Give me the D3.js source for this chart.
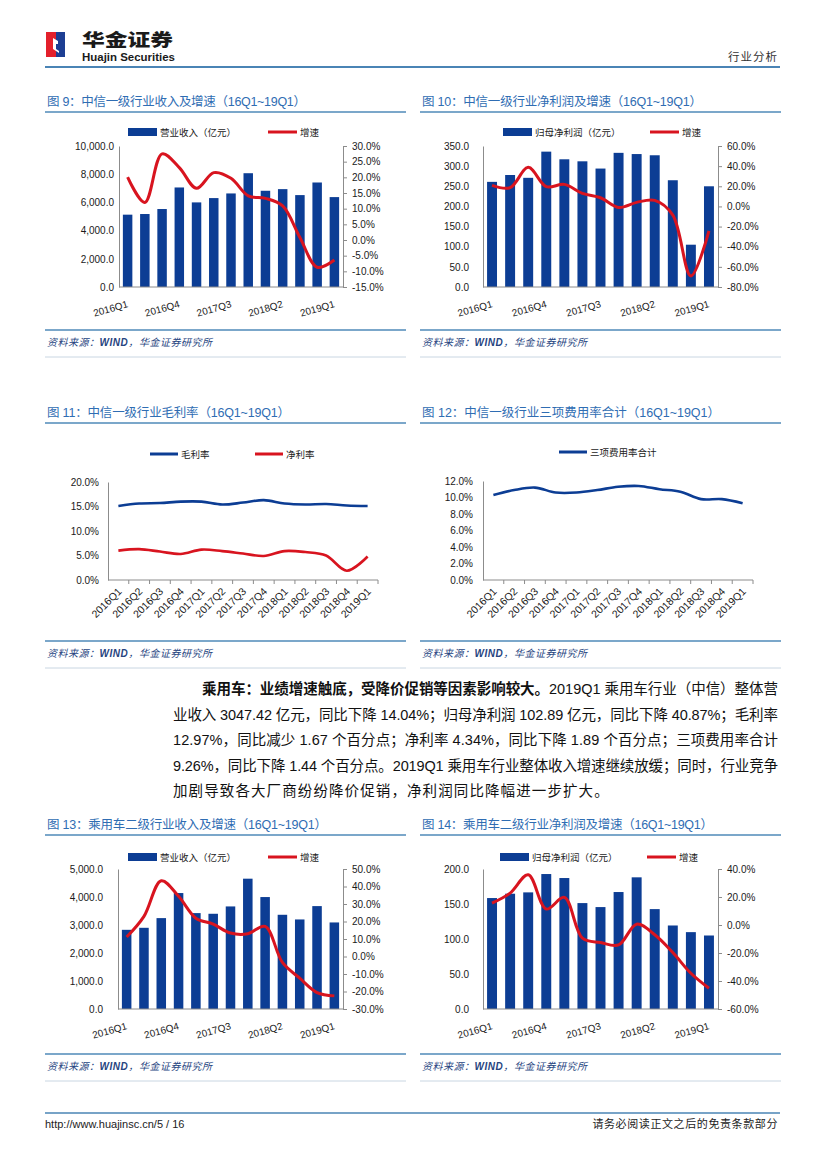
<!DOCTYPE html>
<html><head><meta charset="utf-8">
<script src="https://cdn.jsdelivr.net/npm/d3@7"></script>
<style>
body{margin:0;background:#fff}
text{font-family:"Liberation Sans",Arial,"Noto Sans CJK SC",sans-serif}
</style>
</head><body><svg id="c" width="827" height="1169"></svg>
<script>
// ---------- DATA ----------
const quarters = ["2016Q1","2016Q2","2016Q3","2016Q4","2017Q1","2017Q2","2017Q3","2017Q4","2018Q1","2018Q2","2018Q3","2018Q4","2019Q1"];
const sparseLabels = ["2016Q1","2016Q4","2017Q3","2018Q2","2019Q1"];
// Fig 9
const l1Revenue = [5130,5176,5530,7059,6000,6306,6635,8070,6824,6941,6518,7412,6376];
const l1RevenueGrowth = [20.1,12.0,27.5,23.1,16.5,21.5,19.7,14.1,13.3,10.9,0.8,-8.7,-6.4];
const fig9LeftTicks = [0,2000,4000,6000,8000,10000];
const fig9RightTicks = [-15,-10,-5,0,5,10,15,20,25,30];
// Fig 10
const l1Profit = [261,278,271,336,317,312,294,333,330,327,265,105,250];
const l1ProfitGrowth = [20.9,18.6,38.8,19.6,21.9,12.9,8.6,-1.0,4.0,6.0,-8.6,-69,-24.2];
const fig10LeftTicks = [0,50,100,150,200,250,300,350];
const fig10RightTicks = [-80,-60,-40,-20,0,20,40,60];
// Fig 11
const l1GrossMargin = [15.1,15.6,15.7,16.0,16.0,15.4,15.8,16.3,15.6,15.4,15.5,15.2,15.1];
const l1NetMargin = [6.0,6.3,5.8,5.3,6.2,5.9,5.4,4.9,5.9,5.7,5.0,1.9,4.8];
const fig11Ticks = [0,5,10,15,20];
// Fig 12
const l1ExpenseRatio = [10.3,10.9,11.2,10.6,10.6,10.9,11.3,11.4,11.0,10.7,9.8,9.8,9.3];
const fig12Ticks = [0,2,4,6,8,10,12];
// Fig 13
const pvRevenue = [2828,2900,3246,4141,3425,3401,3663,4654,3998,3365,3198,3675,3091];
const pvRevenueGrowth = [11.1,22.9,43.3,34.4,21.9,18.5,13.4,13.0,17.2,-3.4,-12.4,-20.6,-22.5];
const fig13LeftTicks = [0,1000,2000,3000,4000,5000];
const fig13RightTicks = [-30,-20,-10,0,10,20,30,40,50];
// Fig 14
const pvProfit = [158.5,164.7,166.6,192.8,187.1,151.3,145.6,167.1,188.1,142.7,119.3,109.8,105.0];
const pvProfitGrowth = [15.7,22.8,35.9,11.4,19.7,-9.4,-12.5,-14.2,0.6,-7.0,-19.7,-34.5,-45.2];
const fig14LeftTicks = [0,50,100,150,200];
const fig14RightTicks = [-60,-40,-20,0,20,40];

const bodyLines = [
  ["乘用车：业绩增速触底，受降价促销等因素影响较大。","2019Q1 乘用车行业（中信）整体营"],
  ["","业收入 3047.42 亿元，同比下降 14.04%；归母净利润 102.89 亿元，同比下降 40.87%；毛利率"],
  ["","12.97%，同比减少 1.67 个百分点；净利率 4.34%，同比下降 1.89 个百分点；三项费用率合计"],
  ["","9.26%，同比下降 1.44 个百分点。2019Q1 乘用车行业整体收入增速继续放缓；同时，行业竞争"],
  ["","加剧导致各大厂商纷纷降价促销，净利润同比降幅进一步扩大。"]
];

// ---------- STYLE ----------
const BLUE = "#0c3d94", RED = "#d8141f", TITLE = "#2f6db3", RULE = "#7ba7ca", AX = "#8c8c8c";
const svg = d3.select("#c");
svg.append("rect").attr("width",827).attr("height",1169).attr("fill","#fff");

// ---------- HEADER ----------
svg.append("rect").attr("x",46).attr("y",32).attr("width",10).attr("height",25).attr("fill","#e3202b");
svg.append("rect").attr("x",56).attr("y",32).attr("width",9).attr("height",25).attr("fill","#1d3e93");
svg.append("polygon").attr("points","53,38 58,41 58,44 56,44 56,49 59,51 59,53 53,49").attr("fill","#fff");
svg.append("text").attr("x",82).attr("y",46).attr("font-size",17.5).attr("font-weight",900)
  .attr("textLength",91).attr("lengthAdjust","spacingAndGlyphs").attr("fill","#1a1a1a")
  .style("font-family","'Noto Sans CJK SC'").text("华金证券");
svg.append("text").attr("x",82).attr("y",61).attr("font-size",10.5).attr("font-weight",700)
  .attr("textLength",93).attr("lengthAdjust","spacingAndGlyphs").attr("fill","#1a1a1a")
  .style("font-family","'Liberation Sans Narrow','Liberation Sans'").text("Huajin Securities");
svg.append("line").attr("x1",45).attr("x2",780).attr("y1",67).attr("y2",67).attr("stroke","#4a84b5").attr("stroke-width",2);
svg.append("text").attr("x",778).attr("y",61).attr("text-anchor","end").attr("font-size",11.5).attr("fill","#333")
  .attr("letter-spacing",1).text("行业分析");

// ---------- FOOTER ----------
svg.append("line").attr("x1",45).attr("x2",780).attr("y1",1113).attr("y2",1113).attr("stroke","#4a84b5").attr("stroke-width",1.5);
svg.append("text").attr("x",45).attr("y",1128).attr("font-size",11).attr("fill","#222").text("http://www.huajinsc.cn/5 / 16");
svg.append("text").attr("x",778).attr("y",1128).attr("text-anchor","end").attr("font-size",11).attr("fill","#222")
  .attr("letter-spacing",0.6).text("请务必阅读正文之后的免责条款部分");

// ---------- PANEL FRAME ----------
function panel(x0, x1, titleY, title, titleLen, srcY) {
  svg.append("text").attr("x", x0+2).attr("y", titleY+4.5).attr("font-size",12.5).attr("fill",TITLE)
    .attr("textLength",titleLen).attr("lengthAdjust","spacing").text(title);
  svg.append("line").attr("x1",x0).attr("x2",x1).attr("y1",titleY+11).attr("y2",titleY+11).attr("stroke",RULE).attr("stroke-width",2);
  svg.append("line").attr("x1",x0).attr("x2",x1).attr("y1",srcY-12).attr("y2",srcY-12).attr("stroke",RULE).attr("stroke-width",2);
  const t = svg.append("text").attr("x",x0+2).attr("y",srcY+4).attr("font-size",10).attr("fill","#27457f")
    .attr("font-style","italic").attr("textLength",165).attr("lengthAdjust","spacing");
  t.append("tspan").text("资料来源：");
  t.append("tspan").attr("font-weight",700).text("WIND");
  t.append("tspan").text("，华金证券研究所");
  svg.append("line").attr("x1",x0).attr("x2",x1).attr("y1",srcY+15).attr("y2",srcY+15).attr("stroke","#c9d6e2").attr("stroke-width",1);
}

function styleAxis(g){
  g.select(".domain").attr("stroke",AX);
  g.selectAll(".tick line").attr("stroke",AX);
  g.selectAll(".tick text").attr("font-size",10).attr("fill","#1a1a1a").style("font-family","'Liberation Sans',Arial");
}

// ---------- COMBO (bar + line) ----------
function combo(o){
  const g = svg.append("g");
  const x = d3.scaleBand().domain(quarters).range([o.x0,o.x1]).paddingInner(0.45).paddingOuter(0.225);
  const yL = d3.scaleLinear().domain(o.lDom).range([o.yB,o.yT]);
  const yR = d3.scaleLinear().domain(o.rDom).range([o.yB,o.yT]);
  const bw = x.bandwidth();
  g.selectAll("rect.bar").data(o.bars).join("rect").attr("class","bar")
    .attr("x",(d,i)=>x(quarters[i])).attr("y",d=>yL(d)).attr("width",bw)
    .attr("height",d=>yL(0)-yL(d)).attr("fill",BLUE);
  const la = g.append("g").attr("transform",`translate(${o.x0},0)`)
    .call(d3.axisLeft(yL).tickValues(o.lTicks).tickFormat(d3.format(",.1f")).tickSizeInner(0).tickSizeOuter(0).tickPadding(o.lPad));
  styleAxis(la);
  const ra = g.append("g").attr("transform",`translate(${o.x1},0)`)
    .call(d3.axisRight(yR).tickValues(o.rTicks).tickFormat(d=>d.toFixed(1)+"%").tickSizeInner(4).tickSizeOuter(0).tickPadding(5));
  styleAxis(ra);
  g.append("line").attr("x1",o.x0).attr("x2",o.x1).attr("y1",o.yB).attr("y2",o.yB).attr("stroke",AX);
  g.selectAll("text.xl").data(sparseLabels).join("text").attr("class","xl")
    .attr("transform",d=>`translate(${x(d)+bw/2+1},${o.yB+20}) rotate(-16)`)
    .attr("text-anchor","end").attr("font-size",10).attr("fill","#1a1a1a").text(d=>d);
  const line = d3.line().x((d,i)=>x(quarters[i])+bw/2).y(d=>yR(d)).curve(d3.curveCatmullRom.alpha(0.5));
  g.append("path").datum(o.growth).attr("d",line).attr("fill","none").attr("stroke",RED).attr("stroke-width",3).attr("stroke-linejoin","round");
  // legend
  g.append("rect").attr("x",o.lg[0]).attr("y",o.lgY-4).attr("width",29).attr("height",8).attr("fill",BLUE);
  g.append("text").attr("x",o.lg[0]+32).attr("y",o.lgY+3.5).attr("font-size",9.5).attr("fill","#1a1a1a").text(o.barName);
  g.append("line").attr("x1",o.lg[1]).attr("x2",o.lg[1]+29).attr("y1",o.lgY).attr("y2",o.lgY).attr("stroke",RED).attr("stroke-width",3);
  g.append("text").attr("x",o.lg[1]+32).attr("y",o.lgY+3.5).attr("font-size",9.5).attr("fill","#1a1a1a").text("增速");
}

// ---------- LINE CHART ----------
function lineChart(o){
  const g = svg.append("g");
  const x = d3.scaleBand().domain(quarters).range([o.x0,o.x1]);
  const y = d3.scaleLinear().domain([0,o.max]).range([o.yB,o.yT]);
  const bw = x.bandwidth();
  const la = g.append("g").attr("transform",`translate(${o.x0},0)`)
    .call(d3.axisLeft(y).tickValues(o.ticks).tickFormat(d=>d.toFixed(1)+"%").tickSizeInner(0).tickSizeOuter(0).tickPadding(o.lPad));
  styleAxis(la);
  g.append("line").attr("x1",o.x0).attr("x2",o.x1).attr("y1",o.yB).attr("y2",o.yB).attr("stroke",AX);
  g.selectAll("line.tk").data(quarters.slice(1).concat(["end"])).join("line").attr("class","tk")
    .attr("x1",d=>d==="end"?o.x1:x(d)).attr("x2",d=>d==="end"?o.x1:x(d))
    .attr("y1",o.yB).attr("y2",o.yB+4).attr("stroke",AX);
  g.selectAll("text.xl").data(quarters).join("text").attr("class","xl")
    .attr("transform",d=>`translate(${x(d)+bw/2+4},${o.yB+12}) rotate(-45)`)
    .attr("text-anchor","end").attr("font-size",10.5).attr("fill","#1a1a1a").text(d=>d);
  const line = d3.line().x((d,i)=>x(quarters[i])+bw/2).y(d=>y(d)).curve(d3.curveCatmullRom.alpha(0.5));
  o.series.forEach(s=>{
    g.append("path").datum(s.values).attr("d",line).attr("fill","none").attr("stroke",s.color).attr("stroke-width",2.6).attr("stroke-linejoin","round");
    g.append("line").attr("x1",s.lx).attr("x2",s.lx+28).attr("y1",o.lgY).attr("y2",o.lgY).attr("stroke",s.color).attr("stroke-width",3);
    g.append("text").attr("x",s.lx+31).attr("y",o.lgY+3.5).attr("font-size",9.5).attr("fill","#1a1a1a").text(s.name);
  });
}

// ---------- PANELS ----------
panel(45,406,101,"图 9：中信一级行业收入及增速（16Q1~19Q1）",259,342);
panel(420,781,101,"图 10：中信一级行业净利润及增速（16Q1~19Q1）",280,342);
panel(45,406,412,"图 11：中信一级行业毛利率（16Q1~19Q1）",243,653);
panel(420,781,412,"图 12：中信一级行业三项费用率合计（16Q1~19Q1）",298,653);
panel(45,406,824,"图 13：乘用车二级行业收入及增速（16Q1~19Q1）",280,1066);
panel(420,781,824,"图 14：乘用车二级行业净利润及增速（16Q1~19Q1）",291,1066);

combo({x0:119,x1:343,yT:146,yB:287,lDom:[0,10000],rDom:[-15,30],lTicks:fig9LeftTicks,rTicks:fig9RightTicks,
  lPad:5,bars:l1Revenue,growth:l1RevenueGrowth,lg:[128,268],lgY:132,barName:"营业收入（亿元）"});
combo({x0:483,x1:718,yT:146,yB:287,lDom:[0,350],rDom:[-80,60],lTicks:fig10LeftTicks,rTicks:fig10RightTicks,
  lPad:14,bars:l1Profit,growth:l1ProfitGrowth,lg:[503,650],lgY:132,barName:"归母净利润（亿元）"});
combo({x0:118,x1:343,yT:869,yB:1009,lDom:[0,5000],rDom:[-30,50],lTicks:fig13LeftTicks,rTicks:fig13RightTicks,
  lPad:15,bars:pvRevenue,growth:pvRevenueGrowth,lg:[128,268],lgY:857,barName:"营业收入（亿元）"});
combo({x0:483,x1:718,yT:869,yB:1009,lDom:[0,200],rDom:[-60,40],lTicks:fig14LeftTicks,rTicks:fig14RightTicks,
  lPad:14,bars:pvProfit,growth:pvProfitGrowth,lg:[500,647],lgY:857,barName:"归母净利润（亿元）"});

lineChart({x0:108,x1:378,yT:482,yB:580,max:20,ticks:fig11Ticks,lPad:9,lgY:454,
  series:[{values:l1GrossMargin,color:BLUE,name:"毛利率",lx:150},{values:l1NetMargin,color:RED,name:"净利率",lx:255}]});
lineChart({x0:483,x1:753,yT:481,yB:580,max:12,ticks:fig12Ticks,lPad:10,lgY:452,
  series:[{values:l1ExpenseRatio,color:BLUE,name:"三项费用率合计",lx:559}]});

// ---------- BODY TEXT ----------
const lineY = [689,714.5,740,765.5,791];
bodyLines.forEach((ln,i)=>{
  const x0 = i===0 ? 202 : 173;
  const t = svg.append("text").attr("x",x0).attr("y",lineY[i]+5).attr("font-size",14.5).attr("fill","#111");
  if(i<4) t.attr("textLength",778-x0).attr("lengthAdjust","spacing");
  else t.attr("letter-spacing",1.1);
  if(ln[0]) t.append("tspan").attr("font-weight",700).style("font-family","'Noto Sans CJK SC'").text(ln[0]);
  t.append("tspan").text(ln[1]);
});
</script>
</body></html>
